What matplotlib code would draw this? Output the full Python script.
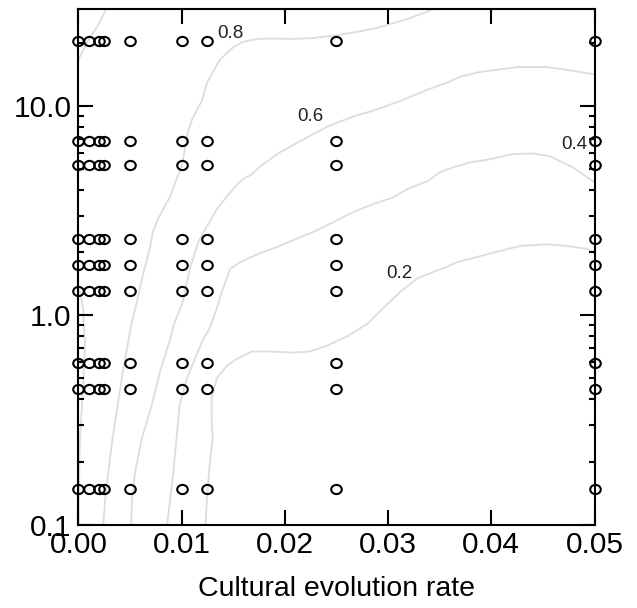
import matplotlib
matplotlib.use('Agg')
import matplotlib.pyplot as plt
import numpy as np
from matplotlib.path import Path
from matplotlib.transforms import Affine2D

plt.rcParams['font.family'] = ['Liberation Sans', 'DejaVu Sans']

# sampled parameter grid
rates = [0.0, 0.001, 0.002, 0.0025, 0.005, 0.01, 0.0125, 0.025, 0.05]
ratios = [20.5, 6.85, 5.25, 2.32, 1.75, 1.31, 0.59, 0.444, 0.148]

# contour lines (rate, ratio)
c08_x = [0.0343, 0.0321, 0.0305, 0.0289, 0.0270, 0.0251, 0.0227, 0.0208, 0.0186, 0.0173,
         0.0159, 0.0150, 0.0137, 0.01245, 0.0120, 0.0110, 0.0106, 0.0103, 0.0100, 0.0095,
         0.0089, 0.0082, 0.0077, 0.0072, 0.0069, 0.00615, 0.00567, 0.00518, 0.0047, 0.0043,
         0.0038, 0.0033, 0.0029, 0.0026, 0.0024]
c08_y = [29.0, 26.4, 25.0, 23.7, 22.7, 21.9, 21.2, 21.0, 21.1, 21.0,
         20.3, 19.2, 16.7, 12.97, 10.76, 8.64, 7.50, 6.22, 5.16, 4.48,
         3.72, 3.22, 2.89, 2.50, 2.08, 1.50, 1.16, 0.933, 0.694, 0.539,
         0.372, 0.259, 0.180, 0.134, 0.1]

c06_x = [0.05, 0.0479, 0.0454, 0.0425, 0.0389, 0.0370, 0.0357, 0.0338, 0.0315, 0.0289,
         0.0266, 0.0241, 0.0218, 0.0195, 0.0176, 0.0168, 0.0159, 0.0147, 0.0134, 0.01245,
         0.0116, 0.0108, 0.0101, 0.0092, 0.0089, 0.0079, 0.0071, 0.00615, 0.0055, 0.0052, 0.0051]
c06_y = [14.2, 14.8, 15.4, 15.4, 14.6, 13.85, 12.97, 12.0, 10.76, 9.65,
         8.93, 8.0, 6.94, 6.02, 5.16, 4.73, 4.48, 3.88, 3.22, 2.67,
         2.24, 1.67, 1.16, 0.893, 0.774, 0.539, 0.372, 0.259, 0.180, 0.134, 0.1]

c04_x = [0.05, 0.0479, 0.0457, 0.0440, 0.0418, 0.0399, 0.0379, 0.0363, 0.0350, 0.0338,
         0.0318, 0.0305, 0.0285, 0.0266, 0.0247, 0.0227, 0.0208, 0.0192, 0.0174, 0.0157,
         0.0147, 0.0139, 0.0134, 0.0127, 0.0121, 0.0113, 0.0105, 0.0098, 0.0095, 0.0092,
         0.0089, 0.0086]
c04_y = [4.33, 5.11, 5.76, 5.95, 5.89, 5.58, 5.39, 5.11, 4.83, 4.38,
         4.01, 3.67, 3.40, 3.12, 2.79, 2.50, 2.29, 2.12, 1.97, 1.80,
         1.67, 1.30, 1.08, 0.864, 0.774, 0.622, 0.50, 0.372, 0.259, 0.180,
         0.134, 0.1]

c02_x = [0.05, 0.0493, 0.0473, 0.0454, 0.0428, 0.0408, 0.0389, 0.0367, 0.0357, 0.0344,
         0.0328, 0.0312, 0.0295, 0.0280, 0.0260, 0.0241, 0.0224, 0.0208, 0.0186, 0.0168,
         0.0154, 0.0144, 0.0134, 0.0129, 0.0129, 0.0130, 0.0127, 0.01245, 0.0123]
c02_y = [2.01, 2.08, 2.15, 2.19, 2.15, 2.03, 1.92, 1.80, 1.71, 1.615,
         1.50, 1.30, 1.08, 0.913, 0.792, 0.717, 0.672, 0.664, 0.672, 0.672,
         0.622, 0.576, 0.50, 0.401, 0.312, 0.259, 0.192, 0.134, 0.1]

ctop_x = [0.00266, 0.0019, 0.0008, 0.0]
ctop_y = [29.0, 24.5, 20.1, 16.7]
cbot_x = [0.0, 0.00015, 0.00044, 0.00063, 0.00044, 0.00015, 0.00005, 0.0]
cbot_y = [1.34, 1.30, 1.08, 0.733, 0.448, 0.259, 0.150, 0.1]

levels = ['0.8', '0.6', '0.4', '0.2']
label_pos = [(0.0147, 22.4), (0.0225, 8.93), (0.0480, 6.57), (0.0311, 1.58)]

fig = plt.figure(figsize=(6.37, 6.08), dpi=100)
ax = fig.add_axes([0.1232, 0.1373, 0.8101, 0.8479])

line_kw = dict(color='#dddddd', lw=1.3, zorder=1)
for cx, cy in [(c08_x, c08_y), (c06_x, c06_y), (c04_x, c04_y), (c02_x, c02_y),
               (ctop_x, ctop_y), (cbot_x, cbot_y)]:
    ax.plot(cx, cy, **line_kw)

for lab, (lx, ly) in zip(levels, label_pos):
    ax.text(lx, ly, lab, fontsize=13.5, color='#222222', ha='center', va='center', zorder=2)

# ellipse marker
ell = Path.unit_circle().transformed(Affine2D().scale(1.15, 1.0))
gx, gy = np.meshgrid(rates, ratios)
ax.plot(gx.ravel(), gy.ravel(), ls='none', marker=ell, ms=7.6, mfc='none',
        mec='black', mew=1.5, clip_on=False, zorder=3)

ax.set_yscale('log')
ax.set_xlim(0, 0.05)
ax.set_ylim(0.1, 29.2)
ax.set_xticks([0, 0.01, 0.02, 0.03, 0.04, 0.05])
ax.set_xticklabels(['0.00', '0.01', '0.02', '0.03', '0.04', '0.05'])
ax.set_yticks([0.1, 1, 10])
ax.set_yticklabels(['0.1', '1.0', '10.0'])
ax.minorticks_on()
ax.xaxis.set_minor_locator(matplotlib.ticker.NullLocator())
ax.yaxis.set_minor_formatter(matplotlib.ticker.NullFormatter())

ax.tick_params(which='both', direction='in', top=True, right=True, width=1.5,
               labelsize=21.5, pad=5)
ax.tick_params(which='major', length=11)
ax.tick_params(which='minor', length=4.5)
for s in ax.spines.values():
    s.set_linewidth(1.5)

ax.set_xlabel('Cultural evolution rate', fontsize=20.5, labelpad=12)

plt.savefig('out.png', dpi=100)
